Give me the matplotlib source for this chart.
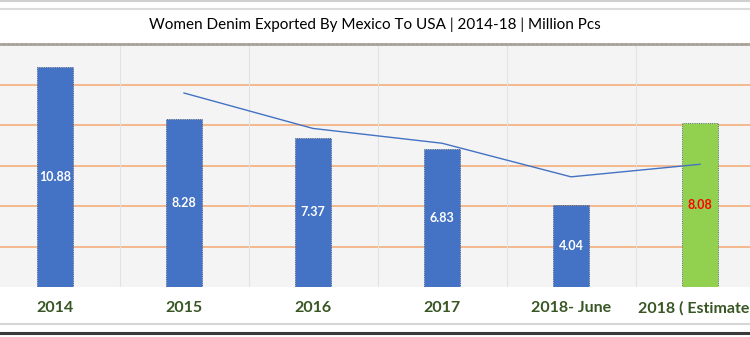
import numpy as np
import matplotlib
matplotlib.use("Agg")
import matplotlib.pyplot as plt
from matplotlib.lines import Line2D

plt.rcParams['font.family'] = ['Lato', 'DejaVu Sans']

# data
categories = ['2014', '2015', '2016', '2017', '2018- June', '2018 ( Estimated)']
values = [10.88, 8.28, 7.37, 6.83, 4.04, 8.08]
# trend line (2 period moving average shown in the chart)
trend = [9.58, 7.83, 7.10, 5.44, 6.06]
bar_colors = ['#4472c4', '#4472c4', '#4472c4', '#4472c4', '#4472c4', '#92d050']
label_colors = ['white', 'white', 'white', 'white', 'white', '#ff0000']

fig = plt.figure(figsize=(7.5, 3.37), dpi=100)
fig.patch.set_facecolor('white')

# plot area
ax = fig.add_axes([0, 1 - 287/337, 1, (287 - 44)/337])
ax.set_facecolor('#f4f4f4')
x = np.arange(len(categories))
ax.set_xlim(-55/129, (750 - 55)/129)
ax.set_ylim(0, 12)

for yv in [2, 4, 6, 8, 10]:
    ax.axhline(yv, color='#f6b88e', lw=1.4, zorder=1)
for xv in np.arange(-0.5, 6, 1):
    ax.axvline(xv, color='#e2e2e2', lw=0.8, zorder=1)

bars = ax.bar(x, values, width=0.28, color=bar_colors, edgecolor='#3a4a6a',
              linewidth=0.6, linestyle=':', zorder=2)
for b, v, c in zip(bars, values, label_colors):
    ax.text(b.get_x() + b.get_width()/2, v/2, '%.2f' % v, ha='center', va='center',
            color=c, fontsize=9, fontweight='bold', zorder=4)

ax.plot(x[1:], trend, color='#4472c4', lw=1.0, zorder=3)

for s in ['left', 'right', 'bottom']:
    ax.spines[s].set_visible(False)
ax.spines['top'].set_color('#aaa39c')
ax.spines['top'].set_linewidth(2)
ax.spines['top'].set_linestyle((0, (1, 0.6)))
ax.set_xticks([])
ax.set_yticks([])

# category labels below the plot
for xi, cat in zip(x, categories):
    ax.text(xi, -1.05, cat, ha='center', va='center', color='#375623',
            fontsize=11.5, fontweight='bold', clip_on=False)

fig.text(0.5, 1 - 25/337, 'Women Denim Exported By Mexico To USA | 2014-18 | Million Pcs',
         ha='center', va='center', fontsize=11, color='#000000')

# frame lines
fig.add_artist(Line2D([0, 1], [1 - 1/337, 1 - 1/337], color='#d0d0d0', lw=1.5))
fig.add_artist(Line2D([0, 1], [1 - 8.5/337, 1 - 8.5/337], color='#dcdcdc', lw=1.5))
fig.add_artist(Line2D([0, 1], [1 - 324/337, 1 - 324/337], color='#d6d6d6', lw=1.5))
fig.add_artist(Line2D([0, 1], [1 - 333/337, 1 - 333/337], color='#3a3a3a', lw=2.2))

fig.savefig('out.png', dpi=100)
